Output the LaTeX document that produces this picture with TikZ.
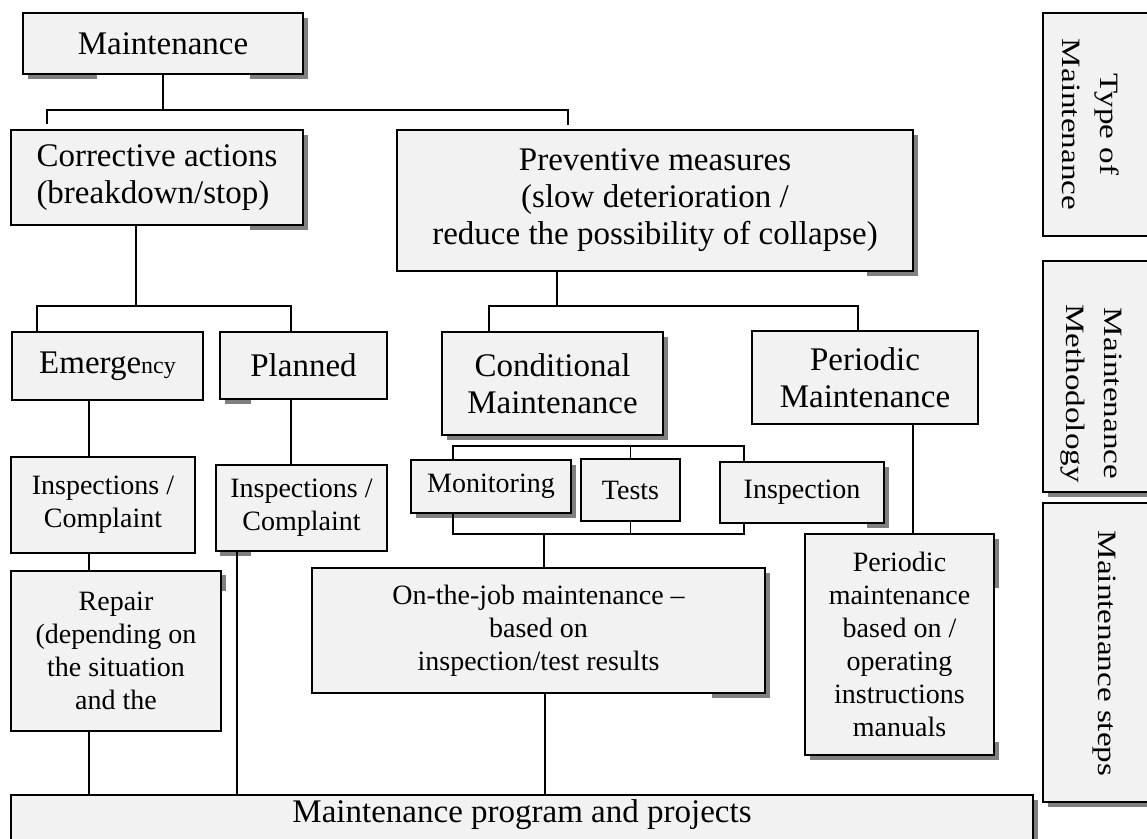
\documentclass[tikz,border=0pt]{standalone}
\usepackage{fontspec}
\setmainfont{Liberation Serif}
\newfontfamily\widefont[FakeStretch=1.25]{Liberation Serif}
\definecolor{boxfill}{HTML}{F2F2F2}
\definecolor{shade}{HTML}{808080}
\tikzset{
  box/.style={draw=black, line width=1.5pt, fill=boxfill, align=center, inner sep=0pt},
  big/.style={font=\fontsize{33}{37}\selectfont},
  small/.style={font=\fontsize{28}{33}\selectfont},
  sidetxt/.style={rotate=-90, align=center, inner sep=0pt, font=\widefont\fontsize{26.5}{38}\selectfont},
  conn/.style={line width=1.5pt, line cap=rect},
  shd/.style={fill=shade},
}
\begin{document}
\begin{tikzpicture}[x=1pt,y=-1pt]
\clip (0,0) rectangle (1147,838);
\fill[white] (0,0) rectangle (1147,838);
% ---- shadows ----
\fill[shd] (303,18) rectangle (308,79);
\fill[shd] (28,74) rectangle (97,79);
\fill[shd] (250,74) rectangle (308,79);
\fill[shd] (303,135) rectangle (308,230);
\fill[shd] (250,225) rectangle (308,230);
\fill[shd] (913,135) rectangle (918,276);
\fill[shd] (867,271) rectangle (918,276);
\fill[shd] (225,399) rectangle (251,404);
\fill[shd] (663,337) rectangle (668,440);
\fill[shd] (447,435) rectangle (668,440);
\fill[shd] (571,465) rectangle (576,518);
\fill[shd] (416,513) rectangle (576,518);
\fill[shd] (884,467) rectangle (889,528);
\fill[shd] (867,523) rectangle (889,528);
\fill[shd] (220,551) rectangle (251,556);
\fill[shd] (221,575) rectangle (226,591);
\fill[shd] (765,573) rectangle (770,698);
\fill[shd] (712,693) rectangle (770,698);
\fill[shd] (994,539) rectangle (999,588);
\fill[shd] (994,742) rectangle (999,760);
\fill[shd] (810,755) rectangle (999,760);
\fill[shd] (1033,800) rectangle (1038,850);
\fill[shd] (1048,492) rectangle (1160,497);
\fill[shd] (1048,802) rectangle (1160,807);
% ---- boxes ----
\node[box,big,minimum width=280,minimum height=61] (maint) at (163,43.5) {Maintenance};
\node[box,big,minimum width=292,minimum height=95,align=left] (corr) at (157,177.5) {Corrective actions\\(breakdown/stop)};
\node[box,big,minimum width=516,minimum height=141] (prev) at (655,200.5) {Preventive measures\\(slow deterioration /\\reduce the possibility of collapse)};
\node[box,big,minimum width=191,minimum height=68] (emer) at (107.5,366) {Emerge{\fontsize{24}{28}\selectfont ncy}};
\node[box,big,minimum width=167,minimum height=67] (plan) at (303.5,365.5) {Planned};
\node[box,big,minimum width=221,minimum height=103] (cond) at (552.5,383.5) {Conditional\\Maintenance};
\node[box,big,minimum width=226,minimum height=93] (perm) at (865,377.5) {Periodic\\Maintenance};
\node[box,small,minimum width=184,minimum height=96] (insp1) at (103,505) {Inspections /\\Complaint};
\node[box,small,minimum width=171,minimum height=86] (insp2) at (301.5,508) {Inspections /\\Complaint};
\node[box,small,minimum width=160,minimum height=53] (mon) at (491,486.5) {Monitoring};
\node[box,small,minimum width=99,minimum height=62] (tests) at (630.5,490) {Tests};
\node[box,small,minimum width=164,minimum height=61] (inspn) at (802,492.5) {Inspection};
\node[box,small,minimum width=210,minimum height=160] (repair) at (116,651) {Repair\\(depending on\\the situation\\and the};
\node[box,small,minimum width=453,minimum height=125] (otj) at (538.5,630.5) {On-the-job maintenance --\\based on\\inspection/test results};
\node[box,small,minimum width=189,minimum height=221] (perl) at (899.5,644.5) {Periodic\\maintenance\\based on /\\operating\\instructions\\manuals};
\node[box,minimum width=1022,minimum height=65] (prog) at (522,827.5) {};
\node[big,inner sep=0pt] (progT) at (522,815) {Maintenance program and projects};
% ---- side boxes ----
\node[box,minimum width=117,minimum height=223] (typeB) at (1101.5,124.5) {};
\node[box,minimum width=117,minimum height=231] (methB) at (1101.5,376.5) {};
\node[box,minimum width=117,minimum height=299] (stepB) at (1101.5,652.5) {};
\node[sidetxt] (typeT) at (1091,124.5) {Type of\\Maintenance};
\node[sidetxt] (methT) at (1091,393.5) {Maintenance\\Methodology};
\node[sidetxt] (stepT) at (1104,653.5) {Maintenance steps};
% ---- connector coordinates ----
\coordinate (j1L) at (47,110);
\coordinate (j1R) at (568,110);
\coordinate (j1Le) at (47,123);
\coordinate (j1Re) at (568,124);
\coordinate (j2) at (136,306);
\coordinate (j2L) at (37,306);
\coordinate (j2R) at (291,306);
\coordinate (j3) at (557,306);
\coordinate (j3L) at (489,306);
\coordinate (j3R) at (858,306);
\coordinate (xE) at (89,0);
\coordinate (xP) at (291,0);
\coordinate (xI) at (237,0);
\coordinate (xO) at (545,0);
\coordinate (xM) at (913,0);
\coordinate (c1L) at (453,446);
\coordinate (c1R) at (744,446);
\coordinate (c2L) at (453,534);
\coordinate (c2R) at (744,534);
\coordinate (c2M) at (544,534);
% ---- connectors ----
\draw[conn] (maint.south) -- (maint.south |- j1L);
\draw[conn] (j1Le) -- (j1L) -- (j1R) -- (j1Re);
\draw[conn] (j2 |- corr.south) -- (j2);
\draw[conn] (j2L |- emer.north) -- (j2L) -- (j2R) -- (j2R |- plan.north);
\draw[conn] (j3 |- prev.south) -- (j3);
\draw[conn] (j3L |- cond.north) -- (j3L) -- (j3R) -- (j3R |- perm.north);
\draw[conn] (xE |- emer.south) -- (xE |- insp1.north);
\draw[conn] (xE |- insp1.south) -- (xE |- repair.north);
\draw[conn] (xE |- repair.south) -- (xE |- prog.north);
\draw[conn] (xP |- plan.south) -- (xP |- insp2.north);
\draw[conn] (xI |- insp2.south) -- (xI |- prog.north);
\draw[conn] (c1L |- mon.north) -- (c1L) -- (c1R) -- (c1R |- inspn.north);
\draw[conn] (tests.north) -- (tests.north |- c1L);
\draw[conn] (c2L |- mon.south) -- (c2L) -- (c2R) -- (c2R |- inspn.south);
\draw[conn] (tests.south) -- (tests.south |- c2L);
\draw[conn] (c2M) -- (c2M |- otj.north);
\draw[conn] (xO |- otj.south) -- (xO |- prog.north);
\draw[conn] (xM |- perm.south) -- (xM |- perl.north);
\end{tikzpicture}
\end{document}
